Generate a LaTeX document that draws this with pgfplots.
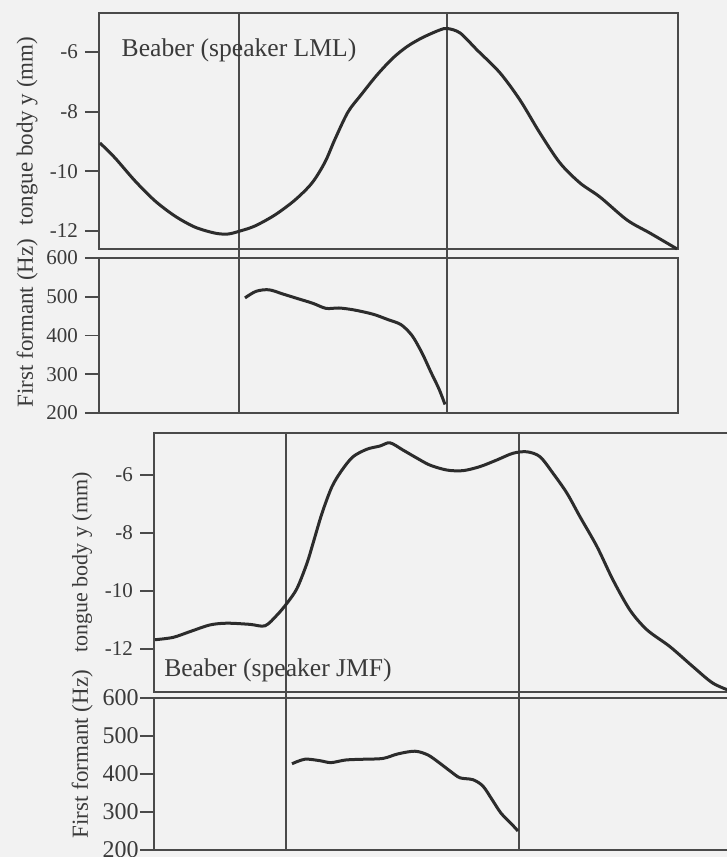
\documentclass[border=0pt]{standalone}
\usepackage{fontspec}
\setmainfont{Liberation Serif}
\usepackage{pgfplots}
\pgfplotsset{compat=1.18}
\definecolor{bg}{rgb}{0.95,0.95,0.95}
\definecolor{ink}{HTML}{2C2C2C}
\definecolor{frame}{HTML}{4A4A4A}
\definecolor{txt}{HTML}{3A3A3A}
\pgfplotsset{
 panel/.style={
  scale only axis, anchor=north west, width=289.5pt,
  axis line style={frame, line width=1pt},
  xtick=\empty, ytick pos=left, tick align=outside,
  major tick length=7pt, major tick style={frame, line width=0.9pt},
  yticklabel style={font=\fontsize{10.5}{12}\selectfont, text=txt},
  ylabel style={font=\fontsize{11.5}{13}\selectfont, text=txt, at={(axis description cs:-0.124,0.5)}, anchor=center},
  /pgf/number format/assume math mode=true,
  clip=false,
 },
 curve/.style={ink, line width=1.5pt, smooth, tension=0.5, no marks, line join=round},
 vline/.style={frame, line width=0.8pt, no marks},
}
\begin{document}
\begin{tikzpicture}
\path[use as bounding box] (0,0) rectangle (363.5pt,-428.5pt);
\fill[bg] (0,0) rectangle (363.5pt,-428.5pt);
\clip (0,0) rectangle (363.5pt,-428.5pt);
% Panel 1
\begin{axis}[panel, at={(49.5pt,-6.5pt)}, height=118pt,
  xmin=99, xmax=678, ymin=-12.603, ymax=-4.693,
  ytick={-12,-10,-8,-6}, yticklabels={-12,-10,-8,-6},
  ylabel={tongue body y (mm)}]
\addplot[vline] coordinates {(239,-12.603) (239,-4.693)};
\addplot[vline] coordinates {(447,-12.603) (447,-4.693)};
\addplot[curve] coordinates {
(100,-9.05) (115,-9.55) (135,-10.32) (155,-10.99) (175,-11.50) (195,-11.87)
(215,-12.07) (228,-12.10) (240,-12.00) (255,-11.83) (275,-11.46) (295,-10.96)
(312,-10.39) (325,-9.69) (335,-8.92) (348,-8.01) (361,-7.44) (377,-6.77)
(393,-6.20) (407,-5.82) (420,-5.56) (430,-5.40) (440,-5.26) (447,-5.21)
(460,-5.36) (477,-5.93) (500,-6.70) (520,-7.61) (540,-8.72) (560,-9.72)
(580,-10.39) (600,-10.86) (627,-11.63) (650,-12.07) (677,-12.60)};
\node[anchor=base, font=\fontsize{12.8}{14}\selectfont, text=txt] at (axis cs:239,-6.16) {Beaber (speaker LML)};
\end{axis}
% Panel 2
\begin{axis}[panel, at={(49.5pt,-129pt)}, height=77.5pt,
  xmin=99, xmax=678, ymin=200, ymax=600,
  ytick={200,300,400,500,600}, yticklabels={200,300,400,500,600},
  ylabel style={font=\fontsize{11.5}{13}\selectfont, at={(axis description cs:-0.124,0.58)}},
  ylabel={First formant (Hz)}]
\addplot[vline] coordinates {(239,200) (239,623)};
\addplot[vline] coordinates {(447,200) (447,623)};
\addplot[curve] coordinates {
(245,497) (256,514) (269,518) (283,507) (298,495) (313,483) (326,470)
(339,471) (354,466) (373,455) (388,441) (401,428) (412,400) (422,355)
(431,305) (439,262) (445,222)};
\end{axis}
% Panel 3
\begin{axis}[panel, at={(77pt,-216.5pt)}, height=129.5pt,
  xmin=154, xmax=733, ymin=-13.483, ymax=-4.552,
  ytick={-12,-10,-8,-6}, yticklabels={-12,-10,-8,-6},
  ylabel style={font=\fontsize{11}{13}\selectfont},
  ylabel={tongue body y (mm)}]
\addplot[vline] coordinates {(286,-13.483) (286,-4.552)};
\addplot[vline] coordinates {(519,-13.483) (519,-4.552)};
\addplot[curve] coordinates {
(155,-11.68) (173,-11.60) (190,-11.40) (210,-11.17) (227,-11.11) (250,-11.15)
(265,-11.20) (277,-10.83) (287,-10.42) (297,-9.91) (307,-9.04) (313,-8.36)
(322,-7.32) (332,-6.40) (342,-5.83) (353,-5.37) (367,-5.11) (380,-5.00)
(390,-4.89) (403,-5.14) (417,-5.42) (430,-5.66) (447,-5.83) (463,-5.85)
(480,-5.71) (497,-5.48) (513,-5.25) (527,-5.20) (540,-5.37) (553,-5.94)
(567,-6.63) (580,-7.44) (597,-8.47) (613,-9.62) (630,-10.66) (647,-11.34)
(670,-11.92) (693,-12.61) (713,-13.18) (733,-13.48)};
\node[anchor=base, font=\fontsize{12.8}{14}\selectfont, text=txt] at (axis cs:278,-12.955) {Beaber (speaker JMF)};
\end{axis}
% Panel 4
\begin{axis}[panel, at={(77pt,-349pt)}, height=76pt,
  xmin=154, xmax=733, ymin=200, ymax=600,
  ytick={200,300,400,500,600}, yticklabels={200,300,400,500,600},
  yticklabel style={font=\fontsize{12}{13}\selectfont, inner xsep=0.5pt},
  ylabel style={font=\fontsize{11.5}{13}\selectfont, at={(axis description cs:-0.124,0.63)}},
  ylabel={First formant (Hz)}]
\addplot[vline] coordinates {(286,200) (286,616)};
\addplot[vline] coordinates {(519,200) (519,616)};
\addplot[curve] coordinates {
(292,427) (305,439) (320,435) (331,430) (346,437) (365,439) (383,441)
(398,453) (415,460) (428,450) (440,428) (451,406) (460,390) (473,385)
(483,368) (492,333) (501,297) (511,270) (518,250)};
\end{axis}
\end{tikzpicture}
\end{document}
